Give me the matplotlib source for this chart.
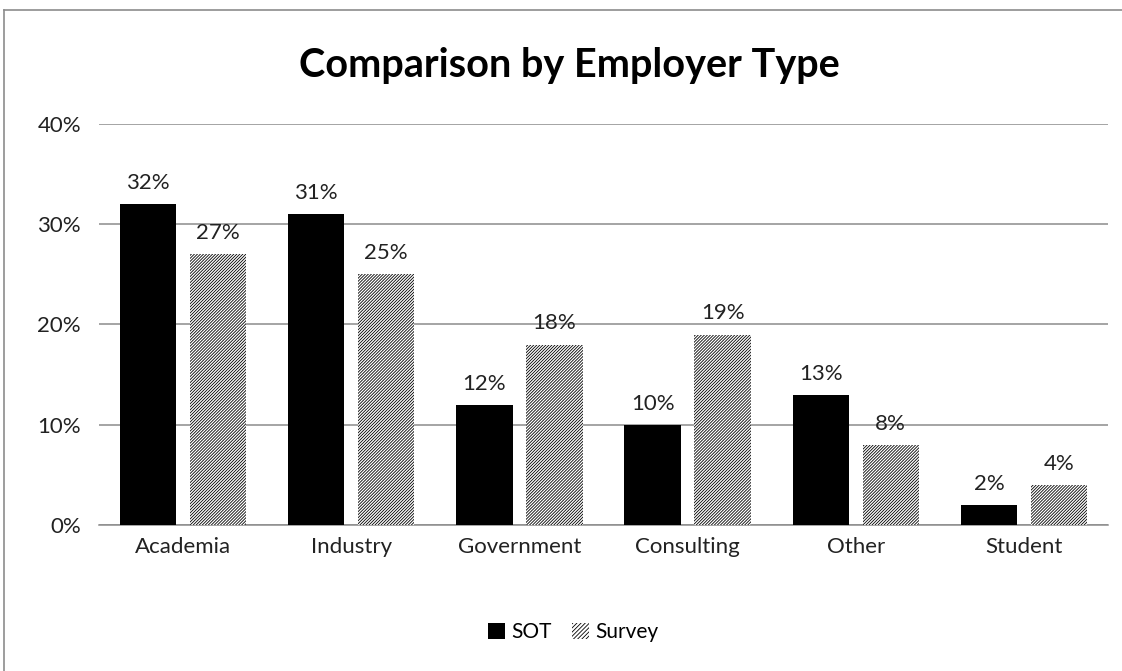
import matplotlib
matplotlib.use("Agg")
import matplotlib.pyplot as plt
from matplotlib.lines import Line2D
from matplotlib.patches import Patch
from matplotlib.ticker import PercentFormatter
import numpy as np

plt.rcParams["font.family"] = ["Lato", "DejaVu Sans"]
plt.rcParams["hatch.linewidth"] = 0.6

categories = ["Academia", "Industry", "Government", "Consulting", "Other", "Student"]
sot = [32, 31, 12, 10, 13, 2]
survey = [27, 25, 18, 19, 8, 4]
y_ticks = [0, 10, 20, 30, 40]

BAR_W = 0.335
OFFSET = 0.208
GRID = "#8c8c8c"
HATCH = "/" * 11

fig = plt.figure(figsize=(11.22, 6.71), dpi=100)
ax = fig.add_axes([0.0882, 0.2176, 0.8993, 0.5976])

# chart frame: only the top and left edges fall inside the image
fx, fy = 4 / 1122, 1 - 10 / 671
fig.add_artist(Line2D([fx, 1.0], [fy, fy], transform=fig.transFigure,
                      color=GRID, linewidth=1.2))
fig.add_artist(Line2D([fx, fx], [0.0, fy], transform=fig.transFigure,
                      color=GRID, linewidth=1.2))

x = np.arange(len(categories))
b1 = ax.bar(x - OFFSET, sot, BAR_W, color="black", linewidth=0, zorder=3)
b2 = ax.bar(x + OFFSET, survey, BAR_W, color="white", edgecolor="black",
            hatch=HATCH, linewidth=0, zorder=3)

for bars, vals in ((b1, sot), (b2, survey)):
    for rect, v in zip(bars, vals):
        ax.annotate(f"{v}%", (rect.get_x() + rect.get_width() / 2, v),
                    xytext=(0, 8), textcoords="offset points",
                    ha="center", va="bottom", fontsize=16, color="#222222")

ax.set_xlim(-0.5, len(categories) - 0.5)
ax.set_ylim(0, 40)
ax.set_yticks(y_ticks)
ax.yaxis.set_major_formatter(PercentFormatter(decimals=0))
ax.set_xticks(x)
ax.set_xticklabels(categories)
ax.tick_params(axis="both", length=0, labelsize=16, colors="#222222")
ax.tick_params(axis="y", pad=13)
ax.tick_params(axis="x", pad=9)
ax.grid(axis="y", color=GRID, linewidth=1.1, zorder=0)
for side in ("left", "right", "top"):
    ax.spines[side].set_visible(False)
ax.spines["bottom"].set_color(GRID)
ax.spines["bottom"].set_linewidth(1.1)

fig.text(569 / 1122, 1 - 66 / 671, "Comparison by Employer Type", ha="center",
         va="center", fontsize=28.5, fontweight="bold")

handles = [Patch(facecolor="black", linewidth=0),
           Patch(facecolor="white", edgecolor="black", hatch="/" * 8, linewidth=0)]
fig.legend(handles, ["SOT", "Survey"], loc="center", ncol=2, frameon=False,
           bbox_to_anchor=(573 / 1122, 1 - 632 / 671), fontsize=15,
           handlelength=0.8, handleheight=0.8, handletextpad=0.3,
           columnspacing=1.0)

fig.savefig("out.png", dpi=100)
